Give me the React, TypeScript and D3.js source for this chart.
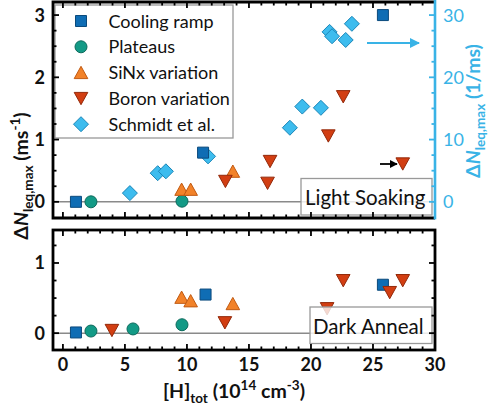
import React from "react";
import * as d3 from "d3";

// ---------- data ----------
// Top panel (Light Soaking), values in ms^-1 (left axis)
const coolTopX = [1.05, 11.3, 25.8];
const coolTopY = [0.0, 0.79, 3.0];
const platTopX = [2.26, 9.6];
const platTopY = [0.0, 0.01];
const sinxTopX = [9.57, 10.3, 13.7];
const sinxTopY = [0.2, 0.2, 0.49];
const boronTopX = [13.1, 16.5, 16.7, 21.4, 22.6, 27.4];
const boronTopY = [0.33, 0.3, 0.65, 1.06, 1.69, 0.61];
// Schmidt et al. values on right axis (1/ms)
const schmidtX = [5.4, 7.64, 8.3, 11.7, 18.3, 19.3, 20.8, 21.5, 21.7, 22.8, 23.3];
const schmidtY = [1.4, 4.6, 4.9, 7.3, 11.9, 15.3, 15.1, 27.3, 26.6, 26.0, 28.6];

// Bottom panel (Dark Anneal)
const coolBotX = [1.05, 11.5, 25.8];
const coolBotY = [0.01, 0.55, 0.69];
const platBotX = [2.26, 5.65, 9.6];
const platBotY = [0.03, 0.06, 0.12];
const sinxBotX = [9.57, 10.3, 13.7];
const sinxBotY = [0.51, 0.46, 0.42];
const boronBotX = [3.95, 13.06, 21.3, 22.6, 26.35, 27.4];
const boronBotY = [0.04, 0.15, 0.35, 0.75, 0.58, 0.75];

const xMajor = [0, 5, 10, 15, 20, 25, 30];
const yTopMajor = [0, 1, 2, 3];
const yRightMajor = [0, 10, 20, 30];
const yBotMajor = [0, 1];
const legendLabels = ["Cooling ramp", "Plateaus", "SiNx variation", "Boron variation", "Schmidt et al."];

// ---------- styles ----------
const W = 495;
const H = 407;
const BLUE_AX = "#39b3e6";
const FONT = "Lato, 'Open Sans', sans-serif";
const C = {
  cool: { fill: "#0f6db4", stroke: "#0b4a7c" },
  plat: { fill: "#139a86", stroke: "#0c6a5c" },
  sinx: { fill: "#f28229", stroke: "#c15a12" },
  boron: { fill: "#d23e12", stroke: "#93290a" },
  schmidt: { fill: "#3dbcee", stroke: "#1b86b8" },
};

type Kind = "square" | "circle" | "up" | "down" | "diamond";

function markerPath(kind: Kind): string {
  switch (kind) {
    case "square":
      return "M-5.5,-5.5H5.5V5.5H-5.5Z";
    case "circle":
      return "M6,0A6,6 0 1 1 -6,0A6,6 0 1 1 6,0Z";
    case "up":
      return "M0,-6.3L6.8,6L-6.8,6Z";
    case "down":
      return "M0,6.3L6.8,-6L-6.8,-6Z";
    case "diamond":
      return "M0,-7.5L7.5,0L0,7.5L-7.5,0Z";
  }
}

function Marker({ kind, x, y, col, opacity = 1 }: { kind: Kind; x: number; y: number; col: { fill: string; stroke: string }; opacity?: number }) {
  return (
    <path
      d={markerPath(kind)}
      transform={`translate(${x},${y})`}
      fill={col.fill}
      stroke={col.stroke}
      strokeWidth={1}
      opacity={opacity}
    />
  );
}

export default function App() {
  const x = d3.scaleLinear().domain([-0.8, 30]).range([53, 435]);
  const yTop = d3.scaleLinear().domain([-0.26, 3.21]).range([218, 2]);
  const yRight = d3.scaleLinear().domain([-2.6, 32.1]).range([218, 2]);
  const yBot = d3.scaleLinear().domain([-0.24, 1.47]).range([350, 230]);

  const xMinor = d3.range(0, 31, 1);
  const yTopMinor = d3.range(0, 3.01, 0.25);
  const yRightMinor = d3.range(0, 31, 2.5);
  const yBotMinor = d3.range(0, 1.3, 0.25);

  const L = x.range()[0];
  const R = x.range()[1];
  const tT = yTop.range()[1];
  const tB = yTop.range()[0];
  const bT = yBot.range()[1];
  const bB = yBot.range()[0];

  const MJ = 6;
  const MN = 3.5;
  const isMajorX = (v: number) => v % 5 === 0;

  const pts = (xs: number[], ys: number[], ys2: d3.ScaleLinear<number, number>, kind: Kind, col: any, key: string) =>
    xs.map((v, i) => <Marker key={key + i} kind={kind} x={x(v)} y={ys2(ys[i])} col={col} />);

  return (
    <svg width={W} height={H} style={{ position: "absolute", left: 0, top: 0, background: "#fff" }} fontFamily={FONT}>
      <defs>
        <marker id="arrBlue" viewBox="0 0 10 10" refX="9" refY="5" markerWidth="5" markerHeight="5" orient="auto">
          <path d="M0,0L10,5L0,10Z" fill={BLUE_AX} />
        </marker>
        <marker id="arrBlack" viewBox="0 0 10 10" refX="9" refY="5" markerWidth="4.5" markerHeight="4.5" orient="auto">
          <path d="M0,0L10,5L0,10Z" fill="#000" />
        </marker>
      </defs>

      {/* ===== TOP PANEL ===== */}
      <line x1={L} x2={R} y1={yTop(0)} y2={yTop(0)} stroke="#8a8a8a" strokeWidth={1.5} />
      {pts(schmidtX, schmidtY, yRight, "diamond", C.schmidt, "sc")}
      {pts(coolTopX, coolTopY, yTop, "square", C.cool, "ct")}
      {pts(platTopX, platTopY, yTop, "circle", C.plat, "pt")}
      {pts(sinxTopX, sinxTopY, yTop, "up", C.sinx, "st")}
      {pts(boronTopX, boronTopY, yTop, "down", C.boron, "bt")}

      {/* arrows */}
      <line x1={367} x2={419} y1={43} y2={43} stroke={BLUE_AX} strokeWidth={2} markerEnd="url(#arrBlue)" />
      <line x1={380} x2={397} y1={164} y2={164} stroke="#000" strokeWidth={1.8} markerEnd="url(#arrBlack)" />

      {/* legend */}
      <rect x={55} y={5} width={178} height={133} fill="#fff" stroke="#999" strokeWidth={1.3} />
      {(["square", "circle", "up", "down", "diamond"] as Kind[]).map((k, i) => {
        const cols = [C.cool, C.plat, C.sinx, C.boron, C.schmidt];
        const yy = 21 + i * 25.8;
        return (
          <g key={"lg" + i}>
            <Marker kind={k} x={81} y={yy} col={cols[i]} />
            <text x={108.5} y={yy + 6.5} fontSize={18} fill="#111">{legendLabels[i]}</text>
          </g>
        );
      })}

      {/* Light Soaking box */}
      <rect x={301} y={178.5} width={131} height={36.5} fill="#fff" fillOpacity={0.8} stroke="#999" strokeWidth={1.3} />
      <text x={305} y={205} fontSize={20.5} fill="#111">Light Soaking</text>

      {/* top panel ticks */}
      {xMinor.map((v) => (
        <g key={"txt" + v}>
          <line x1={x(v)} x2={x(v)} y1={tT} y2={tT + (isMajorX(v) ? MJ : MN)} stroke="#000" strokeWidth={1.8} />
          <line x1={x(v)} x2={x(v)} y1={tB} y2={tB - (isMajorX(v) ? MJ : MN)} stroke="#000" strokeWidth={1.8} />
        </g>
      ))}
      {yTopMinor.map((v) => (
        <line key={"tyl" + v} x1={L} x2={L + (v % 1 === 0 ? MJ : MN)} y1={yTop(v)} y2={yTop(v)} stroke="#000" strokeWidth={1.8} />
      ))}
      {yRightMinor.map((v) => (
        <line key={"tyr" + v} x1={R} x2={R - (v % 10 === 0 ? MJ : MN)} y1={yRight(v)} y2={yRight(v)} stroke={BLUE_AX} strokeWidth={1.8} />
      ))}
      {/* top frame */}
      <path d={`M${R},${tT}H${L}V${tB}H${R}`} fill="none" stroke="#000" strokeWidth={2.8} />
      <line x1={R} x2={R} y1={0} y2={tB + 1.4} stroke={BLUE_AX} strokeWidth={2.6} />

      {yTopMajor.map((v) => (
        <text key={"tyl-l" + v} x={L - 8} y={yTop(v) + 6.5} fontSize={18} fontWeight={700} textAnchor="end" fill="#111">{v}</text>
      ))}
      {yRightMajor.map((v) => (
        <text key={"tyr-l" + v} x={R + 8} y={yRight(v) + 6.5} fontSize={18} textAnchor="start" fill={BLUE_AX}>{v}</text>
      ))}

      {/* ===== BOTTOM PANEL ===== */}
      <line x1={L} x2={R} y1={yBot(0)} y2={yBot(0)} stroke="#8a8a8a" strokeWidth={1.5} />
      {pts(coolBotX, coolBotY, yBot, "square", C.cool, "cb")}
      {pts(platBotX, platBotY, yBot, "circle", C.plat, "pb")}
      {pts(sinxBotX, sinxBotY, yBot, "up", C.sinx, "sb")}
      {pts(boronBotX, boronBotY, yBot, "down", C.boron, "bb")}

      <rect x={310} y={307} width={122} height={36.5} fill="#fff" fillOpacity={0.8} stroke="#999" strokeWidth={1.3} />
      <text x={313} y={334} fontSize={20.5} fill="#111">Dark Anneal</text>

      {xMinor.map((v) => (
        <g key={"bxt" + v}>
          <line x1={x(v)} x2={x(v)} y1={bT} y2={bT + (isMajorX(v) ? MJ : MN)} stroke="#000" strokeWidth={1.8} />
          <line x1={x(v)} x2={x(v)} y1={bB} y2={bB - (isMajorX(v) ? MJ : MN)} stroke="#000" strokeWidth={1.8} />
        </g>
      ))}
      {yBotMinor.map((v) => (
        <g key={"byt" + v}>
          <line x1={L} x2={L + (v % 1 === 0 ? MJ : MN)} y1={yBot(v)} y2={yBot(v)} stroke="#000" strokeWidth={1.8} />
          <line x1={R} x2={R - (v % 1 === 0 ? MJ : MN)} y1={yBot(v)} y2={yBot(v)} stroke="#000" strokeWidth={1.8} />
        </g>
      ))}
      <rect x={L} y={bT} width={R - L} height={bB - bT} fill="none" stroke="#000" strokeWidth={2.8} />

      {yBotMajor.map((v) => (
        <text key={"byl" + v} x={L - 8} y={yBot(v) + 6.5} fontSize={18} fontWeight={700} textAnchor="end" fill="#111">{v}</text>
      ))}
      {xMajor.map((v) => (
        <text key={"bxl" + v} x={x(v)} y={371} fontSize={18} fontWeight={700} textAnchor="middle" fill="#111">{v}</text>
      ))}

      {/* axis titles */}
      <text x={234} y={398} fontSize={19.5} fontWeight={700} textAnchor="middle" fill="#111">
        [H]<tspan fontSize={13.5} dy={5}>tot</tspan>
        <tspan dy={-5}> (10</tspan>
        <tspan fontSize={13.5} dy={-8}>14</tspan>
        <tspan dy={8}> cm</tspan>
        <tspan fontSize={13.5} dy={-8}>-3</tspan>
        <tspan dy={8}>)</tspan>
      </text>
      <text transform="translate(28,176) rotate(-90)" fontSize={19.5} fontWeight={700} textAnchor="middle" fill="#111">
        Δ<tspan fontStyle="italic">N</tspan>
        <tspan fontSize={13.5} dy={5}>leq,max</tspan>
        <tspan dy={-5}> (ms</tspan>
        <tspan fontSize={13.5} dy={-8}>-1</tspan>
        <tspan dy={8}>)</tspan>
      </text>
      <text transform="translate(480,111) rotate(-90)" fontSize={19.5} fontWeight={700} textAnchor="middle" fill={BLUE_AX}>
        Δ<tspan fontStyle="italic">N</tspan>
        <tspan fontSize={13.5} dy={5}>leq,max</tspan>
        <tspan dy={-5}> (1/ms)</tspan>
      </text>
    </svg>
  );
}
